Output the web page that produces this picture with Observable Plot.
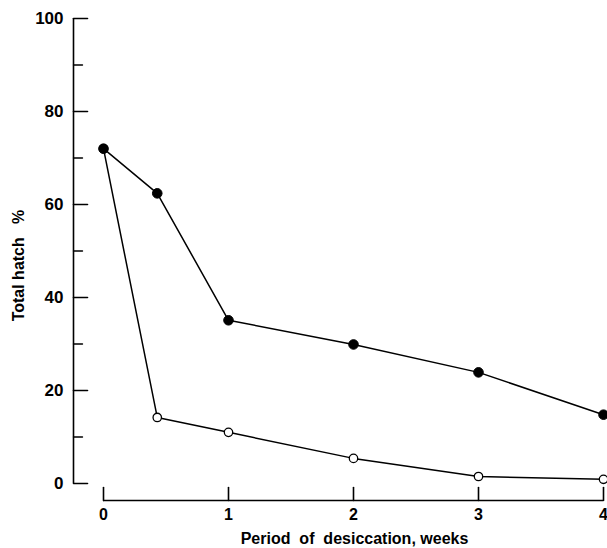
<!DOCTYPE html>
<html><head><meta charset="utf-8">
<script src="https://cdn.jsdelivr.net/npm/d3@7"></script>
<script src="https://cdn.jsdelivr.net/npm/@observablehq/plot@0.6"></script>
<style>
body{margin:0;background:#fff}
#chart svg{font-family:"Liberation Sans",Arial,sans-serif;}
</style>
</head><body><div id="chart"></div>
<script>
const weeks = [0, 0.43, 1, 2, 3, 4];
const filledHatch = [72, 62.4, 35.1, 29.9, 23.9, 14.8];
const openHatch = [72, 14.2, 11.0, 5.4, 1.5, 0.9];
const xTicks = [0, 1, 2, 3, 4];
const yTicks = [0, 20, 40, 60, 80, 100];
const yMinorTicks = [10, 30, 50, 70, 90];
const xTitle = "Period  of  desiccation, weeks";
const yTitle = "Total hatch\u00a0\u00a0\u00a0%";

const filled = weeks.map((w, i) => ({w, v: filledHatch[i]}));
const open = weeks.map((w, i) => ({w, v: openHatch[i]}));

const lineShape = {draw(ctx, l) { ctx.moveTo(0, 0); ctx.lineTo(0, -l); }};

const chart = Plot.plot({
  width: 607, height: 548,
  marginLeft: 73, marginRight: 4, marginTop: 18, marginBottom: 48,
  insetLeft: 30, insetBottom: 17,
  x: {domain: [0, 4], axis: null},
  y: {domain: [0, 100], axis: null},
  marks: [
    // axis lines
    Plot.ruleX([0], {y1: 0, y2: 100, dx: -30, stroke: "black", strokeWidth: 1.6}),
    Plot.ruleY([0], {x1: 0, x2: 4, dy: 17, stroke: "black", strokeWidth: 1.6}),
    // y ticks (inward)
    Plot.vector(yTicks, {x: 0, y: d => d, dx: -30, length: 14, rotate: 90, anchor: "start", shape: lineShape, stroke: "black", strokeWidth: 1.6}),
    Plot.vector(yMinorTicks, {x: 0, y: d => d, dx: -30, length: 9, rotate: 90, anchor: "start", shape: lineShape, stroke: "black", strokeWidth: 1.4}),
    // x ticks (inward)
    Plot.vector(xTicks, {x: d => d, y: 0, dy: 17, length: 13, rotate: 0, anchor: "start", shape: lineShape, stroke: "black", strokeWidth: 1.6}),
    // tick labels
    Plot.axisY(yTicks, {anchor: "left", tickSize: 0, tickPadding: 10, fontSize: 17, fontWeight: "bold", label: null, tickFormat: "d"}),
    Plot.axisX(xTicks, {anchor: "bottom", tickSize: 0, tickPadding: 8, fontSize: 16, fontWeight: "bold", label: null, tickFormat: "d"}),
    // titles
    Plot.text([xTitle], {frameAnchor: "bottom", dx: 16, dy: 43, fontSize: 16, fontWeight: "bold", lineAnchor: "bottom", style: "white-space:pre"}),
    Plot.text([yTitle], {frameAnchor: "left", textAnchor: "middle", dx: -55, dy: 6, rotate: -90, fontSize: 16, fontWeight: "bold"}),
    // data
    Plot.line(open, {x: "w", y: "v", stroke: "black", strokeWidth: 1.5}),
    Plot.line(filled, {x: "w", y: "v", stroke: "black", strokeWidth: 1.5}),
    Plot.dot(open, {x: "w", y: "v", r: 4.2, fill: "white", stroke: "black", strokeWidth: 1.3}),
    Plot.dot(filled, {x: "w", y: "v", r: 4.8, fill: "black", stroke: "black", strokeWidth: 1})
  ]
});
document.getElementById("chart").append(chart);
</script>
</body></html>
